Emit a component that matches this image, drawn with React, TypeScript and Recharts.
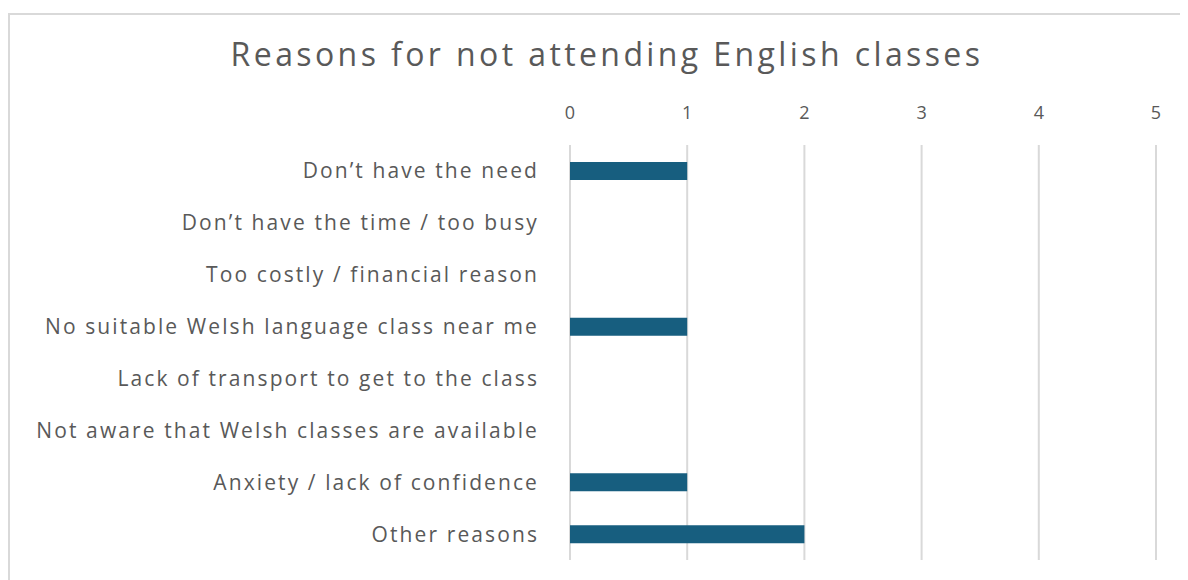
import { BarChart, Bar, XAxis, YAxis, CartesianGrid } from 'recharts'

const reasons = [
  'Don\u2019t have the need',
  'Don\u2019t have the time / too busy',
  'Too costly / financial reason',
  'No suitable Welsh language class near me',
  'Lack of transport to get to the class',
  'Not aware that Welsh classes are available',
  'Anxiety / lack of confidence',
  'Other reasons',
]
const counts = [1, 0, 0, 1, 0, 0, 1, 2]
const xTicks = [0, 1, 2, 3, 4, 5]

const data = reasons.map((reason, i) => ({ reason, count: counts[i] }))

const font = '"Open Sans", sans-serif'
const textColor = '#595959'

export default function App() {
  return (
    <div style={{ paddingTop: 5 }}>
      <div
        style={{
          position: 'relative',
          width: 1180,
          height: 570,
          borderTop: '2px solid #d9d9d9',
          borderLeft: '2px solid #d9d9d9',
          fontFamily: font,
        }}
      >
        <div
          style={{
            position: 'absolute',
            top: 17,
            left: 0,
            width: 1194,
            textAlign: 'center',
            fontSize: 32,
            letterSpacing: 3.4,
            color: textColor,
          }}
        >
          Reasons for not attending English classes
        </div>
        <BarChart
          width={1178}
          height={565}
          data={data}
          layout="vertical"
          barSize={18}
          margin={{ top: 0, right: 32, bottom: 20, left: 0 }}
        >
          <CartesianGrid horizontal={false} stroke="#d9d9d9" strokeWidth={2} />
          <XAxis
            type="number"
            orientation="top"
            domain={[0, 5]}
            ticks={xTicks}
            height={130}
            axisLine={false}
            tickLine={false}
            tickSize={0}
            tickMargin={26}
            tick={{ fill: textColor, fontSize: 18, fontFamily: font }}
          />
          <YAxis
            type="category"
            dataKey="reason"
            width={560}
            axisLine={false}
            tickLine={false}
            tickSize={0}
            tickMargin={31}
            interval={0}
            tick={{ fill: textColor, fontSize: 21, fontFamily: font, letterSpacing: 2.1 }}
          />
          <Bar dataKey="count" fill="#175e7f" isAnimationActive={false} />
        </BarChart>
      </div>
    </div>
  )
}
